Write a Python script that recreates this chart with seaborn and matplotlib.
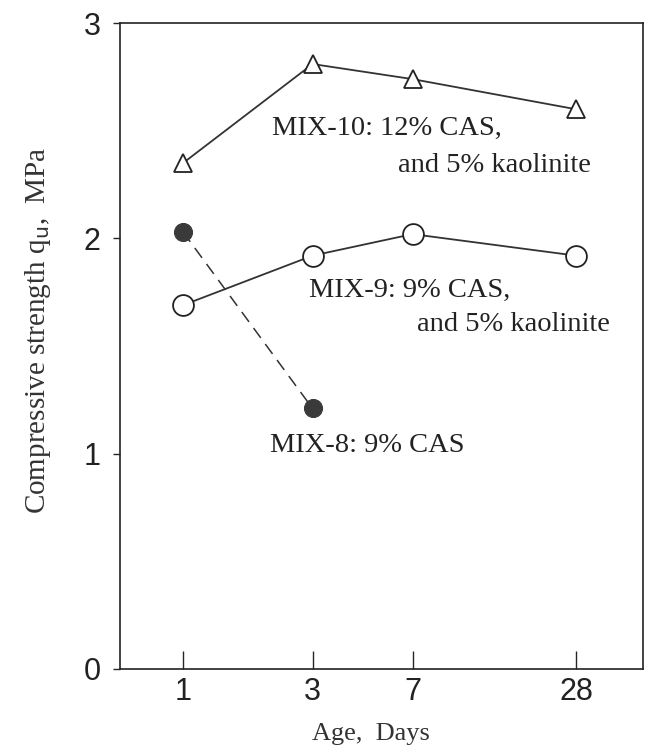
import matplotlib
matplotlib.use("Agg")
import matplotlib.pyplot as plt
import seaborn as sns
import pandas as pd

# Age in days (log-scaled x axis)
days = [1, 3, 7, 28]
mix10 = [2.35, 2.81, 2.74, 2.60]
mix9 = [1.69, 1.92, 2.02, 1.92]
mix8_days = [1, 3]
mix8 = [2.03, 1.21]

sns.set_style("ticks")
plt.rcParams['font.family'] = ['Liberation Serif', 'DejaVu Serif']

fig = plt.figure(figsize=(6.5, 7.51), dpi=100)
ax = fig.add_axes([0.1846, 0.1092, 0.8046, 0.860])

df10 = pd.DataFrame({"day": days, "qu": mix10})
df9 = pd.DataFrame({"day": days, "qu": mix9})
df8 = pd.DataFrame({"day": mix8_days, "qu": mix8})

sns.lineplot(data=df10, x="day", y="qu", ax=ax, color="#333333", lw=1.3,
             marker="^", markersize=13, markerfacecolor="white",
             markeredgecolor="#222222", markeredgewidth=1.3)
sns.lineplot(data=df9, x="day", y="qu", ax=ax, color="#333333", lw=1.3,
             marker="o", markersize=15, markerfacecolor="white",
             markeredgecolor="#222222", markeredgewidth=1.3)
sns.lineplot(data=df8, x="day", y="qu", ax=ax, color="#333333", lw=1.1,
             marker="o", markersize=13, markerfacecolor="#3a3a3a",
             markeredgecolor="#3a3a3a", dashes=False, linestyle=(0, (8, 5)))

ax.set_xscale("log")
ax.set_xlim(0.586, 49.4)
ax.set_ylim(0, 3)
ax.set_xticks(days)
ax.set_xticklabels([str(d) for d in days])
ax.xaxis.set_minor_locator(matplotlib.ticker.NullLocator())
ax.set_yticks([0, 1, 2, 3])
ax.set_yticklabels(["0", "1", "2", "3"])

for lab in ax.get_xticklabels() + ax.get_yticklabels():
    lab.set_family(['Liberation Sans', 'DejaVu Sans'])
    lab.set_fontsize(22)
    lab.set_color("#222222")
ax.tick_params(axis="x", direction="in", length=13, width=1, pad=6)
ax.tick_params(axis="y", direction="out", length=5, width=1, pad=9)

for s in ax.spines.values():
    s.set_linewidth(1.2)
    s.set_color("#222222")

ax.set_xlabel("Age,  Days", fontsize=19, color="#333333")
ax.set_ylabel("Compressive strength q$_{\\rm u}$,  MPa", fontsize=21,
              color="#333333")
ax.xaxis.set_label_coords(0.479, -0.083)
ax.yaxis.set_label_coords(-0.128, 0.525)

tk = dict(fontsize=20.5, color="#222222")
ax.text(2.13, 2.51, "MIX-10: 12% CAS,", ha="left", va="center", **tk)
ax.text(31.8, 2.34, "and 5% kaolinite", ha="right", va="center", **tk)
ax.text(2.91, 1.76, "MIX-9: 9% CAS,", ha="left", va="center", **tk)
ax.text(37.3, 1.60, "and 5% kaolinite", ha="right", va="center", **tk)
ax.text(2.09, 1.04, "MIX-8: 9% CAS", ha="left", va="center", **tk)

fig.savefig("out.png", dpi=100)
